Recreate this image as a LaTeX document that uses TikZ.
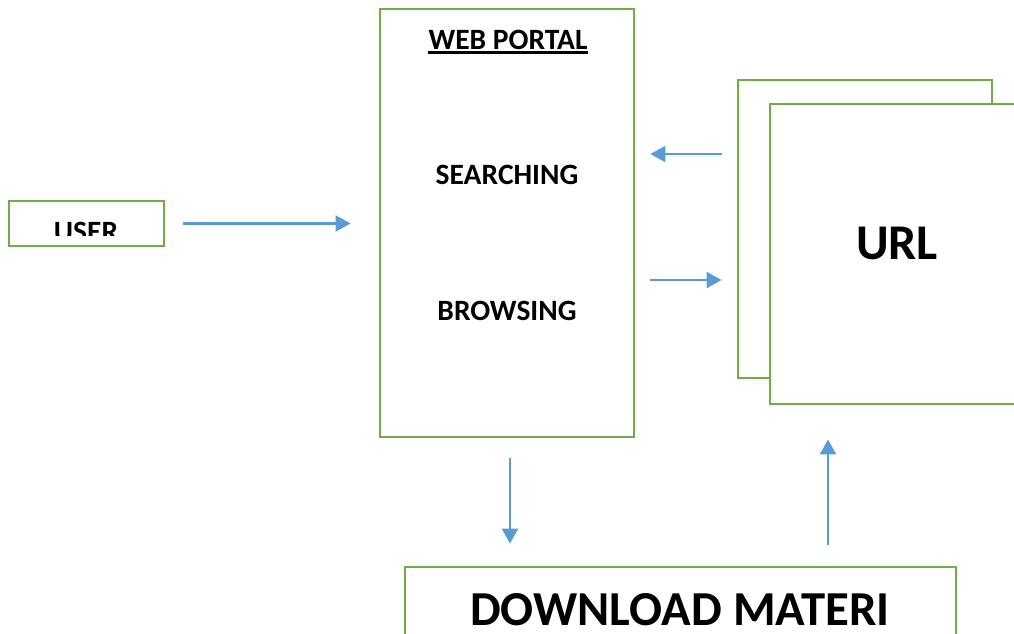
\documentclass[tikz,border=0pt]{standalone}
\usepackage{fontspec}
\setmainfont{Carlito}
\usetikzlibrary{arrows.meta}
\definecolor{grn}{HTML}{70AD47}
\definecolor{blu}{HTML}{5B9BD5}
\begin{document}
\begin{tikzpicture}[x=1pt,y=-1pt,
 box/.style={draw=grn,line width=2.8pt,fill=white,inner sep=0pt},
 arr/.style={draw=blu,line width=2.2pt,-{Triangle[length=15pt,width=16pt]}},
 lbl/.style={font=\bfseries\fontsize{29.5}{30}\selectfont,anchor=base,inner sep=0pt},
 big/.style={font=\bfseries\fontsize{50}{52}\selectfont,anchor=base,inner sep=0pt},
 dl/.style={font=\bfseries\fontsize{48.8}{50}\selectfont,anchor=base,inner sep=0pt}]
\useasboundingbox (0,0) rectangle (1014,634);
\clip (0,0) rectangle (1014,634);
% USER
\node[box,minimum width=155pt,minimum height=45pt] (user) at (86.5,223.5) {};
\begin{scope}
\clip (9,201) rectangle (164,235);
\node[lbl] (usertxt) at (86,241) {USER};
\end{scope}
% WEB PORTAL
\node[box,minimum width=254pt,minimum height=428pt] (portal) at (507,223) {};
\node[lbl] (title) at (508,49) {WEB PORTAL};
\draw[line width=2.2pt] ([yshift=-3pt]title.south west) -- ([yshift=-3pt]title.south east);
\node[lbl] (search) at (507,184) {SEARCHING};
\node[lbl] (browse) at (507,320) {BROWSING};
% URL
\node[box,minimum width=254pt,minimum height=298pt] (urlback) at (865,229) {};
\node[box,minimum width=254pt,minimum height=300pt] (urlfront) at (897,254) {};
\node[big] (urltxt) at (897,259) {URL};
% DOWNLOAD
\node[box,minimum width=551pt,minimum height=140pt] (download) at (680.5,637) {};
\node[dl] (dltxt) at (680,625) {DOWNLOAD MATERI};
% arrows
\draw[arr,shorten <=18pt,shorten >=28pt] (user.east) -- (user.east -| portal.west);
\coordinate (c1) at (urlback.west |- 0,154);
\draw[arr,shorten <=15pt,shorten >=15pt] (c1) -- (c1 -| portal.east);
\coordinate (c2) at (portal.east |- 0,280);
\draw[arr,shorten <=15pt,shorten >=15pt] (c2) -- (c2 -| urlback.west);
\coordinate (c3) at (510,0 |- portal.south);
\draw[arr,shorten <=20pt,shorten >=22pt] (c3) -- (c3 |- download.north);
\coordinate (c4) at (828,0 |- download.north);
\draw[arr,shorten <=21pt,shorten >=34pt] (c4) -- (c4 |- urlfront.south);
\end{tikzpicture}
\end{document}
